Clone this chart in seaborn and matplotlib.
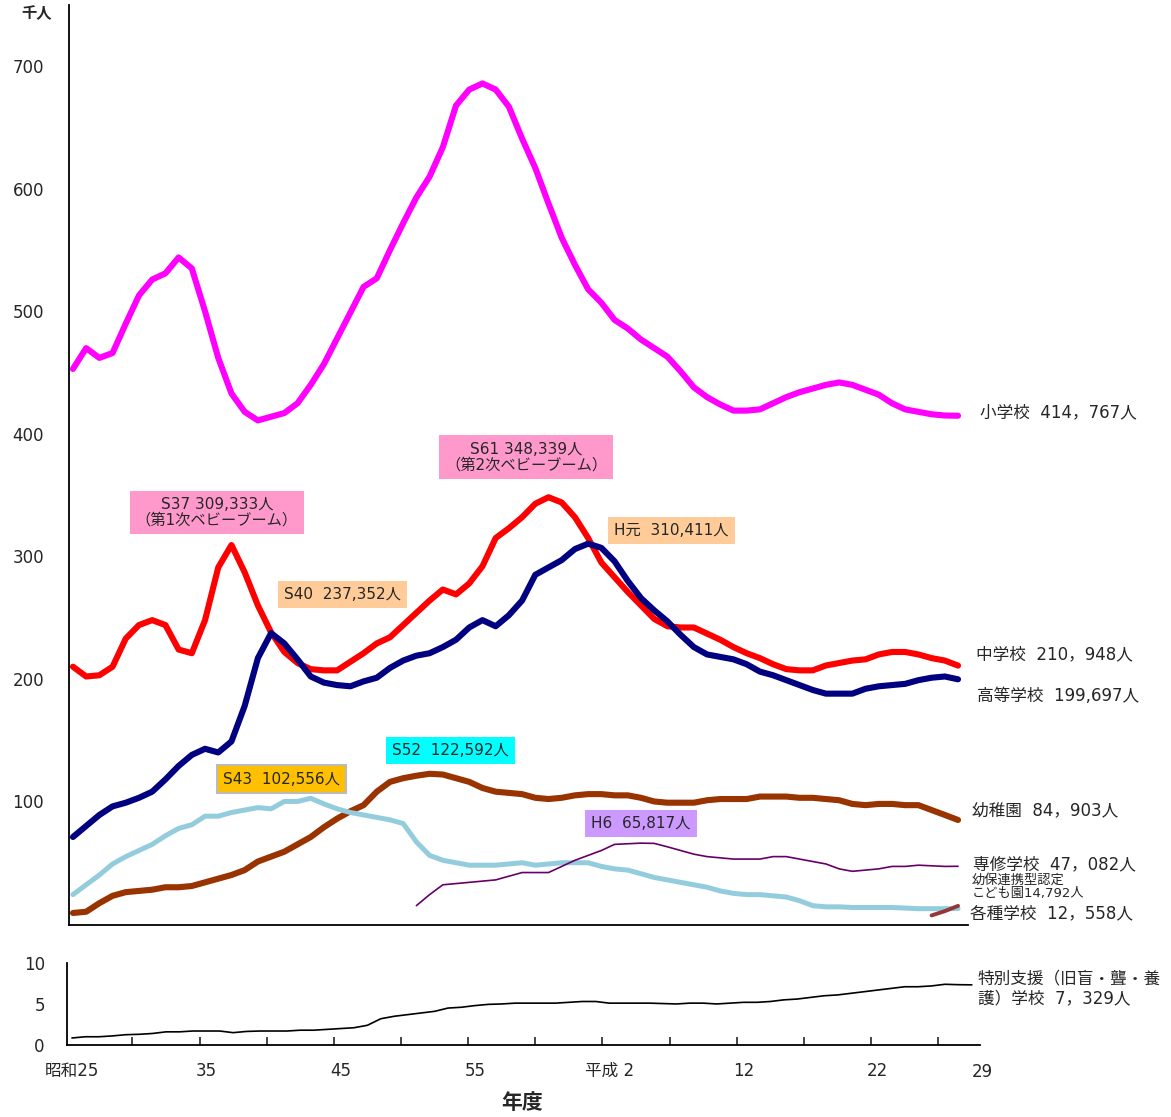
import matplotlib
matplotlib.use("Agg")
import matplotlib.pyplot as plt
import seaborn as sns
import numpy as np
import pandas as pd

# years: 昭和25 (1950) ... 平成29 (2017)
years = list(range(1950, 2018))

# 千人
shogakko = [453, 470, 462, 466, 490, 513, 526, 531, 544, 535,
            500, 462, 433, 418, 411, 414, 417, 425, 440, 457,
            478, 499, 520, 527, 550, 572, 593, 610, 634, 668,
            681, 686, 681, 667, 641, 617, 588, 560, 538, 518,
            507, 493, 486, 477, 470, 463, 451, 438, 430, 424,
            419, 419, 420, 425, 430, 434, 437, 440, 442, 440,
            436, 432, 425, 420, 418, 416, 415, 414.8]
chugakko = [210, 202, 203, 210, 233, 244, 248, 244, 224, 221,
            248, 291, 309.3, 287, 260, 238, 222, 213, 208, 207,
            207, 214, 221, 229, 234, 244, 254, 264, 273, 269,
            278, 292, 315, 323, 332, 343, 348.3, 344, 332, 315,
            295, 283, 271, 260, 249, 243, 242, 242, 237, 232,
            226, 221, 217, 212, 208, 207, 207, 211, 213, 215,
            216, 220, 222, 222, 220, 217, 215, 210.9]
koto = [71, 80, 89, 96, 99, 103, 108, 118, 129, 138,
        143, 140, 149, 178, 217, 237.4, 229, 216, 202, 197,
        195, 194, 198, 201, 209, 215, 219, 221, 226, 232,
        242, 248, 243, 252, 264, 285, 291, 297, 306, 310.4,
        307, 296, 280, 266, 256, 247, 236, 226, 220, 218,
        216, 212, 206, 203, 199, 195, 191, 188, 188, 188,
        192, 194, 195, 196, 199, 201, 202, 199.7]
yochien = [9, 10, 17, 23, 26, 27, 28, 30, 30, 31,
           34, 37, 40, 44, 51, 55, 59, 65, 71, 79,
           86, 92, 97, 108, 116, 119, 121, 122.6, 122, 119,
           116, 111, 108, 107, 106, 103, 102, 103, 105, 106,
           106, 105, 105, 103, 100, 99, 99, 99, 101, 102,
           102, 102, 104, 104, 104, 103, 103, 102, 101, 98,
           97, 98, 98, 97, 97, 93, 89, 84.9]
kakushu = [24, 32, 40, 49, 55, 60, 65, 72, 78, 81,
           88, 88, 91, 93, 95, 94, 100, 100, 102.6, 98,
           94, 91, 89, 87, 85, 82, 67, 56, 52, 50,
           48, 48, 48, 49, 50, 48, 49, 50, 50, 50,
           47, 45, 44, 41, 38, 36, 34, 32, 30, 27,
           25, 24, 24, 23, 22, 19, 15, 14, 14, 13.5,
           13.5, 13.5, 13.5, 13, 12.5, 12.5, 12.5, 12.6]
# 専修学校 from 昭和51 (1976)
senshu_years = list(range(1976, 2018))
senshu = [15, 24, 32, 33, 34, 35, 36, 39, 42, 42,
          42, 47, 52, 56, 60, 65, 65.5, 66, 65.8, 63,
          60, 57, 55, 54, 53, 53, 53, 55, 55, 53,
          51, 49, 45, 43, 44, 45, 47, 47, 48, 47.5,
          47, 47.1]
# 幼保連携型認定こども園 from 平成27 (2015)
kodomoen_years = [2015, 2016, 2017]
kodomoen = [7, 10.5, 14.8]
# 特別支援学校
tokubetsu = [0.85, 1.0, 1.0, 1.1, 1.25, 1.3, 1.4, 1.6, 1.6, 1.7,
             1.7, 1.7, 1.5, 1.65, 1.7, 1.7, 1.7, 1.8, 1.8, 1.9,
             2.0, 2.1, 2.4, 3.2, 3.5, 3.7, 3.9, 4.1, 4.5, 4.6,
             4.8, 4.95, 5.0, 5.1, 5.1, 5.1, 5.1, 5.2, 5.3, 5.3,
             5.1, 5.1, 5.1, 5.1, 5.05, 5.0, 5.1, 5.1, 5.0, 5.1,
             5.2, 5.2, 5.3, 5.5, 5.6, 5.8, 6.0, 6.1, 6.3, 6.5,
             6.7, 6.9, 7.1, 7.1, 7.2, 7.4, 7.35, 7.33]

tick_years = [1950, 1960, 1970, 1980, 1990, 2000, 2010]
tick_labels = ["昭和25", "35", "45", "55", "平成 2", "12", "22"]

sns.set_style("white")
plt.rcParams["font.family"] = ["DejaVu Sans", "Noto Sans CJK JP"]

fig = plt.figure(figsize=(11.71, 11.17), dpi=100)
ax = fig.add_axes([0.0589, 0.1719, 0.7677, 0.8236])
ax2 = fig.add_axes([0.0572, 0.0645, 0.7797, 0.0734])

series = [
    (years, shogakko, "#FF00FF", 4.4),
    (years, chugakko, "#FF0000", 4.4),
    (years, koto, "#000080", 4.4),
    (years, yochien, "#993300", 4.4),
    (years, kakushu, "#93CDDD", 3.6),
    (senshu_years, senshu, "#660066", 1.2),
    (kodomoen_years, kodomoen, "#953735", 2.8),
]
for xs, ys, c, lw in series:
    sns.lineplot(x=xs, y=ys, ax=ax, color=c, linewidth=lw,
                 solid_capstyle="round", solid_joinstyle="round")

ax.set_xlim(1949.7, 2017.75)
ax.set_ylim(-0.8, 750)
ax.set_yticks([100, 200, 300, 400, 500, 600, 700])
ax.set_xticks([])
ax.tick_params(axis="y", direction="in", length=6, width=1.2, labelsize=12, pad=18)
for s in ["top", "right"]:
    ax.spines[s].set_visible(False)
for s in ["left", "bottom"]:
    ax.spines[s].set_color("black")
    ax.spines[s].set_linewidth(1.3)
ax.set_xlabel("")
ax.set_ylabel("")

# annotation boxes
boxes = [
    (1960.9, 336, "S37 309,333人\n（第1次ベビーブーム）", "#FF99CC", "none"),
    (1984.3, 381, "S61 348,339人\n（第2次ベビーブーム）", "#FF99CC", "none"),
    (1995.3, 321, "H元  310,411人", "#FFCC99", "none"),
    (1970.4, 268.8, "S40  237,352人", "#FFCC99", "none"),
    (1978.6, 141.6, "S52  122,592人", "#00FFFF", "none"),
    (1965.8, 118.3, "S43  102,556人", "#FFC000", "#BBBBBB"),
    (1993.0, 82, "H6  65,817人", "#CC99FF", "none"),
]
for bx, by, txt, fc, ec in boxes:
    ax.text(bx, by, txt, ha="center", va="center", fontsize=11,
            linespacing=1.1,
            bbox=dict(boxstyle="square,pad=0.4", fc=fc, ec=ec, lw=1.5))

# end labels
end_labels = [
    (2018.66, 417.7, "小学校  414，767人", 12),
    (2018.36, 220.3, "中学校  210，948人", 12),
    (2018.43, 186, "高等学校  199,697人", 12),
    (2018.05, 93, "幼稚園  84，903人", 12),
    (2018.13, 49, "専修学校  47，082人", 12),
    (2018.05, 35.5, "幼保連携型認定", 9.5),
    (2018.05, 24.5, "こども園14,792人", 9.5),
    (2017.9, 9, "各種学校  12，558人", 12),
]
for lx, ly, txt, fs in end_labels:
    ax.text(lx, ly, txt, ha="left", va="center", fontsize=fs)

# lower panel
sns.lineplot(x=years, y=tokubetsu, ax=ax2, color="black", linewidth=1.2)
ax2.set_xlim(1949.63, 2017.61)
ax2.set_ylim(0, 10)
ax2.set_yticks([0, 5, 10])
ax2.set_xticks(tick_years)
ax2.set_xticklabels(tick_labels)
ax2.set_xticks(np.arange(1954.5, 2015, 5), minor=True)
ax2.tick_params(axis="y", direction="in", length=6, width=1.2, labelsize=12, pad=16)
ax2.tick_params(axis="x", which="major", length=0, labelsize=12, pad=12)
ax2.tick_params(axis="x", which="minor", direction="in", length=6, width=1.2, bottom=True)
for s in ["top", "right"]:
    ax2.spines[s].set_visible(False)
for s in ["left", "bottom"]:
    ax2.spines[s].set_color("black")
    ax2.spines[s].set_linewidth(1.3)
ax2.set_xlabel("")
ax2.set_ylabel("")
ax2.text(2017.0, -3.3, "29", ha="left", va="center", fontsize=12)
ax2.text(2017.46, 6.9, "特別支援（旧盲・聾・養\n護）学校  7，329人", ha="left",
         va="center", fontsize=12, linespacing=1.2)

fig.text(37 / 1171, 1 - 14 / 1117, "千人", ha="center", va="center",
         fontsize=11, fontweight="bold")
fig.text(522 / 1171, 1 - 1103 / 1117, "年度", ha="center", va="center",
         fontsize=15, fontweight="bold")

fig.savefig("out.png", dpi=100, facecolor="white")
